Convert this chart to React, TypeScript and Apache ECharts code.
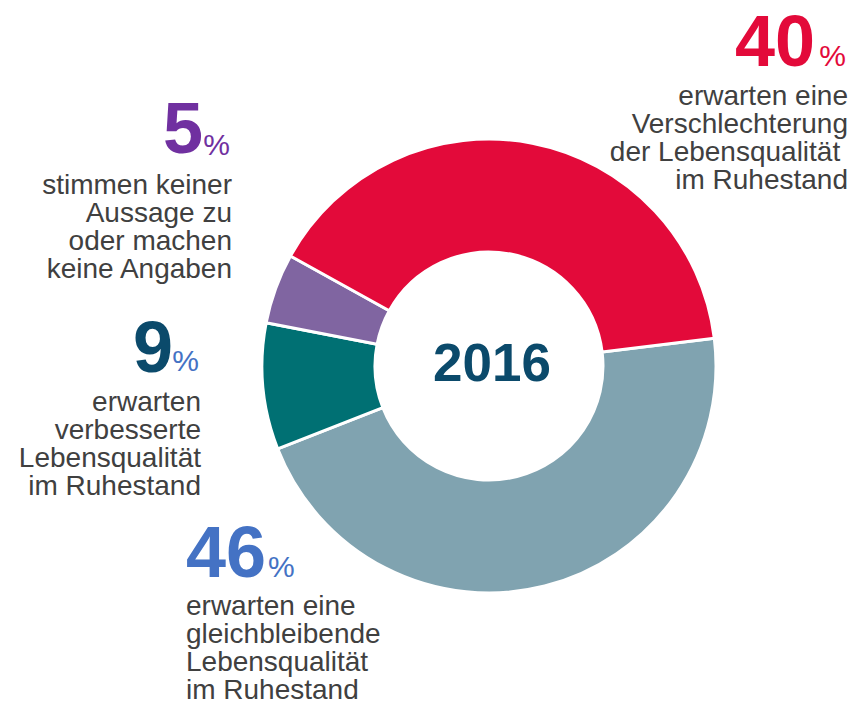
import React, { useEffect, useRef } from "react";
import * as echarts from "echarts";

const categories = [
  "erwarten eine gleichbleibende Lebensqualität im Ruhestand",
  "erwarten verbesserte Lebensqualität im Ruhestand",
  "stimmen keiner Aussage zu oder machen keine Angaben",
  "erwarten eine Verschlechterung der Lebensqualität im Ruhestand",
];
const values = [46, 9, 5, 40];
const sliceColors = ["#80A3B0", "#007073", "#8065A1", "#E30A3A"];
const centerLabel = "2016";

const FONT = "'Liberation Sans', Arial, Helvetica, sans-serif";
const TEXT = "#404040";

type Block = {
  num: string;
  numColor: string;
  pctColor: string;
  lines: string[];
  align: "left" | "right";
  x: number;
  numY: number;
  pctY: number;
  firstLineY: number;
  numRight?: number;
};

const blocks: Block[] = [
  {
    num: "40", numColor: "#E30A3A", pctColor: "#E30A3A",
    lines: ["erwarten eine", "Verschlechterung", "der Lebensqualität ", "im Ruhestand"],
    align: "right", x: 848, numY: 41, pctY: 55, firstLineY: 95, numRight: 815,
  },
  {
    num: "5", numColor: "#7030A0", pctColor: "#7030A0",
    lines: ["stimmen keiner", "Aussage zu", "oder machen", "keine Angaben"],
    align: "right", x: 232, numY: 128, pctY: 144, firstLineY: 184, numRight: 203,
  },
  {
    num: "9", numColor: "#0B4A6B", pctColor: "#4472C4",
    lines: ["erwarten", "verbesserte", "Lebensqualität", "im Ruhestand"],
    align: "right", x: 201, numY: 347, pctY: 360, firstLineY: 401, numRight: 173,
  },
  {
    num: "46", numColor: "#4472C4", pctColor: "#4472C4",
    lines: ["erwarten eine", "gleichbleibende", "Lebensqualität", "im Ruhestand"],
    align: "left", x: 186, numY: 552, pctY: 566, firstLineY: 605,
  },
];

const LINE_GAP = 28;

function buildGraphics() {
  const els: any[] = [];
  blocks.forEach((b) => {
    if (b.align === "right") {
      els.push({
        type: "text", x: b.numRight, y: b.numY,
        style: { text: b.num, fill: b.numColor, font: `bold 72px ${FONT}`, align: "right", verticalAlign: "middle" },
      });
      els.push({
        type: "text", x: b.x - 2, y: b.pctY,
        style: { text: "%", fill: b.pctColor, font: `30px ${FONT}`, align: "right", verticalAlign: "middle" },
      });
    } else {
      els.push({
        type: "text", x: b.x, y: b.numY,
        style: { text: b.num, fill: b.numColor, font: `bold 72px ${FONT}`, align: "left", verticalAlign: "middle" },
      });
      els.push({
        type: "text", x: b.x + 82, y: b.pctY,
        style: { text: "%", fill: b.pctColor, font: `30px ${FONT}`, align: "left", verticalAlign: "middle" },
      });
    }
    b.lines.forEach((line, i) => {
      els.push({
        type: "text", x: b.x, y: b.firstLineY + i * LINE_GAP,
        style: {
          text: line, fill: TEXT, font: `28px ${FONT}`,
          align: b.align, verticalAlign: "middle",
        },
      });
    });
  });
  els.push({
    type: "text", x: 492, y: 362,
    style: { text: centerLabel, fill: "#0B4A6B", font: `bold 53px ${FONT}`, align: "center", verticalAlign: "middle" },
  });
  return els;
}

export default function App() {
  const ref = useRef<HTMLDivElement>(null);
  useEffect(() => {
    if (!ref.current) return;
    const chart = echarts.init(ref.current, undefined, { renderer: "svg" });
    chart.setOption({
      animation: false,
      backgroundColor: "#ffffff",
      series: [
        {
          type: "pie",
          center: [489, 366],
          radius: [114, 227],
          startAngle: 7,
          clockwise: true,
          label: { show: false },
          labelLine: { show: false },
          emphasis: { disabled: true },
          itemStyle: { borderColor: "#ffffff", borderWidth: 3 },
          data: values.map((v, i) => ({ value: v, name: categories[i], itemStyle: { color: sliceColors[i] } })),
        },
      ],
      graphic: buildGraphics(),
    });
    return () => chart.dispose();
  }, []);
  return <div ref={ref} style={{ width: 850, height: 704, position: "absolute", left: 0, top: 0 }} />;
}
